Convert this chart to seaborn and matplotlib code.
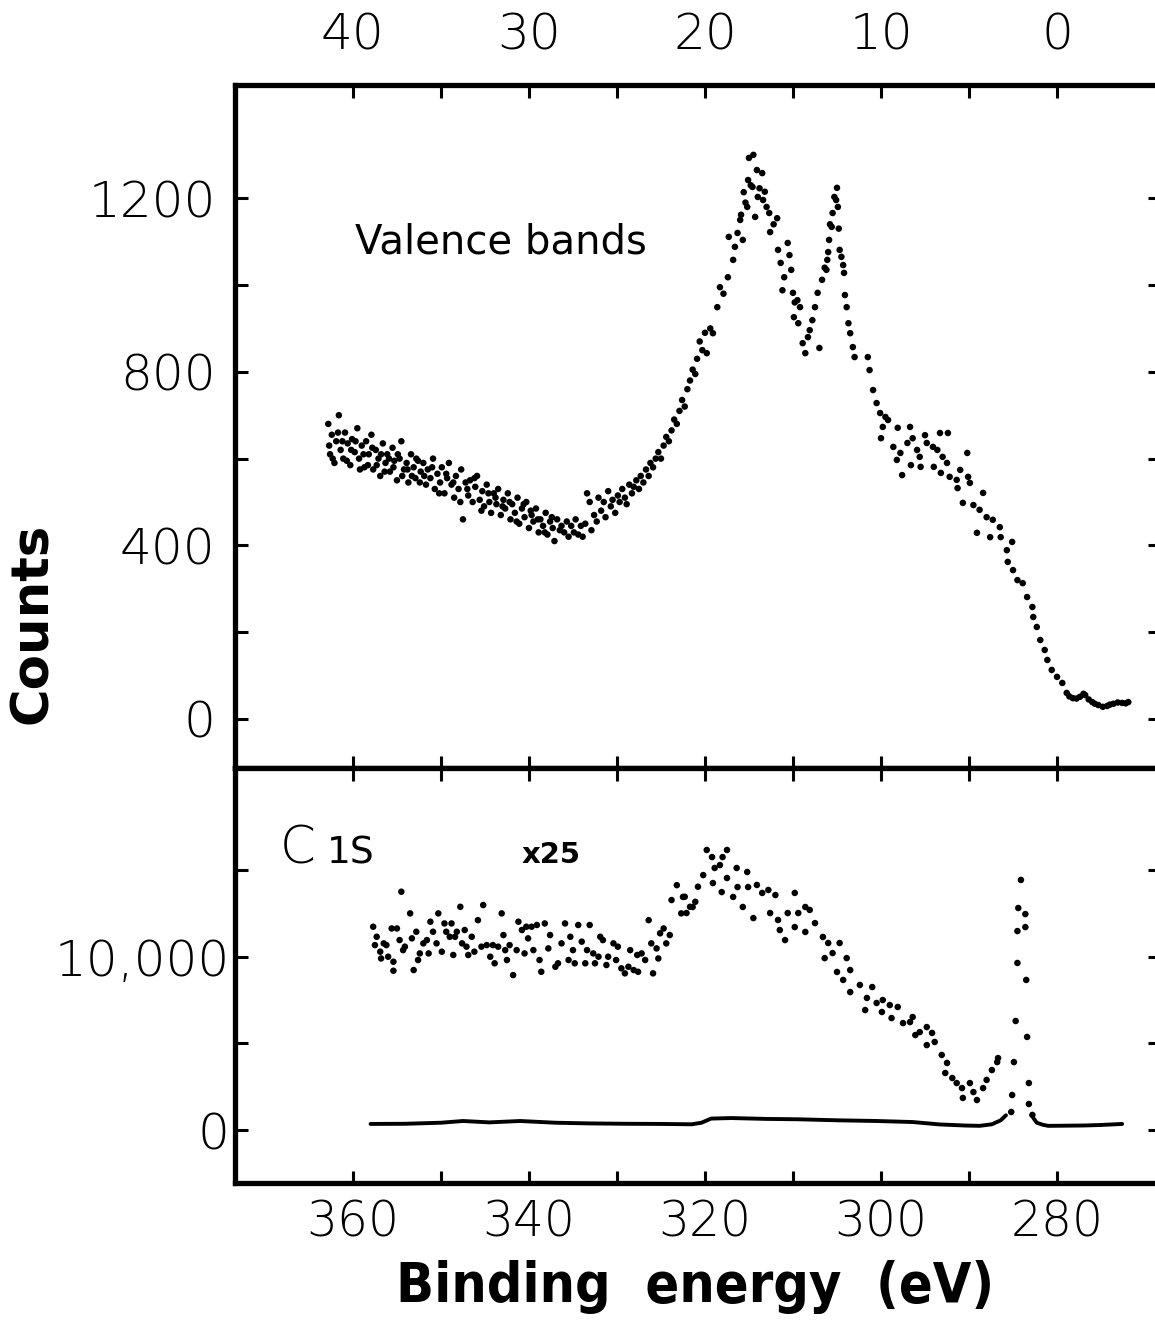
import matplotlib
matplotlib.use('Agg')
import matplotlib.pyplot as plt
import seaborn as sns
import pandas as pd

# ---- valence band spectrum (binding energy in eV, counts) ----
vb_left_be = [362.8, 362.7, 362.6, 362.4, 362.3, 362.1, 361.9, 361.7, 361.6, 361.4,
              361.2, 361.1, 360.9, 360.7, 360.6, 360.3, 360.2, 360.1, 359.8, 359.7,
              359.5, 359.3, 359.2, 359.0, 358.8, 358.7, 358.5, 358.3, 358.2, 357.9,
              357.8, 357.7, 357.4, 357.3, 357.1, 356.9, 356.8, 356.6, 356.4, 356.3,
              356.1, 355.9, 355.8, 355.5, 355.4, 355.3, 355.0, 354.9, 354.7, 354.5,
              354.4, 354.2, 353.9, 353.8, 353.7, 353.4, 353.3, 353.1, 352.9, 352.8,
              352.6, 352.4, 352.3]
vb_left_counts = [680, 630, 610, 655, 600, 590, 640, 660, 700, 620,
                  640, 600, 660, 595, 635, 585, 620, 645, 615, 640,
                  670, 600, 575, 630, 610, 580, 640, 585, 610, 655,
                  625, 575, 620, 585, 600, 560, 610, 635, 570, 590,
                  610, 600, 570, 625, 580, 595, 550, 610, 600, 640,
                  560, 575, 590, 575, 545, 610, 560, 580, 555, 600,
                  595, 545, 570]

vb_mid_be = [352.0, 351.9, 351.7, 351.5, 351.2, 351.0, 350.9, 350.7, 350.4, 350.2,
             350.1, 349.9, 349.6, 349.4, 349.3, 349.1, 348.8, 348.6, 348.5, 348.3,
             348.0, 347.8, 347.7, 347.5, 347.2, 347.0, 346.9, 346.7, 346.4, 346.2,
             346.1, 345.9, 345.6, 345.4, 345.3, 345.1, 344.8, 344.6, 344.5, 344.3,
             344.0, 343.8, 343.7, 343.5, 343.2, 343.0, 342.9, 342.7, 342.4, 342.2,
             342.1, 341.9, 341.6, 341.4, 341.3, 341.1, 340.8, 340.6, 340.5, 340.3,
             340.0, 339.8, 339.7, 339.5, 339.2, 339.0, 338.9, 338.7, 338.4, 338.2,
             338.1, 337.9, 337.6, 337.4, 337.3, 337.1, 336.8, 336.5, 336.3]
vb_mid_counts = [590, 560, 540, 575, 555, 580, 600, 530, 565, 520,
                 545, 580, 520, 565, 555, 590, 540, 545, 510, 560,
                 530, 500, 575, 460, 545, 530, 515, 550, 500, 555,
                 535, 560, 505, 480, 525, 490, 540, 520, 500, 475,
                 520, 510, 495, 530, 470, 490, 505, 485, 520, 500,
                 460, 495, 475, 455, 510, 450, 485, 495, 465, 500,
                 440, 480, 470, 455, 485, 460, 430, 460, 445, 430,
                 475, 425, 455, 465, 440, 410, 460, 435, 445]

vb_rise_be = [336.0, 335.7, 335.5, 335.2, 334.9, 334.7, 334.4, 334.1, 333.9, 333.6,
              333.4, 333.1, 332.9, 332.6, 332.3, 332.1, 331.8, 331.5, 331.3, 331.0,
              330.7, 330.5, 330.2, 329.9, 329.7, 329.4, 329.1, 328.9, 328.6, 328.3,
              328.1, 327.8, 327.5, 327.3, 327.0, 326.7, 326.4, 326.2, 325.9, 325.6,
              325.3, 325.0, 324.7, 324.4, 324.1, 323.8, 323.5, 323.2, 322.9, 322.6,
              322.3, 322.0, 321.7, 321.4, 321.1, 320.9, 320.6, 320.3, 320.0]
vb_rise_counts = [430, 455, 420, 445, 430, 460, 425, 445, 420, 450,
                  520, 500, 435, 470, 455, 510, 480, 500, 465, 525,
                  490, 505, 475, 515, 500, 530, 510, 495, 540, 520,
                  535, 550, 530, 560, 545, 575, 560, 590, 580, 600,
                  615, 600, 630, 650, 640, 665, 690, 680, 710, 735,
                  720, 760, 780, 805, 795, 830, 870, 850, 890]

vb_peak_be = [319.8, 319.4, 319.1, 318.6, 318.3, 317.9, 317.4, 317.3, 316.8, 316.6,
              316.3, 316.0, 315.9, 315.7, 315.6, 315.4, 315.2, 315.1, 315.0, 314.8,
              314.6, 314.5, 314.3, 314.1, 314.0, 313.8, 313.5, 313.4, 313.2, 313.0,
              312.7, 312.6, 312.2, 311.8, 311.7, 311.4, 311.2, 311.0, 310.6, 310.4,
              310.2, 310.0, 309.9, 309.8, 309.5, 309.4, 309.2, 308.9, 308.6, 308.3,
              308.1, 307.8, 307.5, 307.2, 307.0, 306.7, 306.4, 306.2, 306.1, 306.0,
              305.9, 305.8, 305.6, 305.5, 305.3, 305.1, 305.0, 304.9, 304.8, 304.7,
              304.5, 304.3, 304.2, 304.1, 303.9, 303.7, 303.5, 303.2, 303.0]
vb_peak_counts = [843, 900, 889, 949, 995, 980, 1018, 1111, 1058, 1088,
                  1120, 1150, 1162, 1104, 1214, 1190, 1180, 1242, 1293, 1230,
                  1226, 1300, 1157, 1265, 1203, 1223, 1258, 1196, 1215, 1180,
                  1166, 1122, 1140, 1154, 1081, 1051, 988, 1018, 1097, 1069,
                  1035, 982, 926, 960, 965, 912, 949, 866, 843, 880,
                  896, 919, 949, 982, 855, 1012, 1040, 1035, 1058, 1076,
                  1104, 1140, 1134, 1166, 1203, 1196, 1224, 1180, 1130, 1081,
                  1065, 1046, 1028, 977, 949, 912, 889, 857, 834]

vb_tail_be = [301.5, 301.3, 300.9, 300.5, 300.1, 300.0, 299.8, 299.5, 299.2, 298.6,
              298.2, 298.1, 297.8, 297.6, 297.0, 296.7, 296.6, 296.4, 295.9, 295.6,
              295.5, 295.0, 294.8, 294.1, 294.0, 293.6, 293.3, 293.2, 293.0, 292.5,
              292.4, 292.2, 291.4, 291.3, 291.0, 290.7, 290.2, 290.1, 289.9, 289.5,
              289.1, 288.8, 288.4, 288.0, 287.6, 287.3, 286.5, 286.4, 285.7, 285.6,
              285.1, 285.0, 284.5, 283.9, 283.4, 282.8, 282.7, 282.3, 281.9, 281.4,
              281.1, 280.6, 280.0, 279.4, 278.9, 278.6, 278.2, 277.8, 277.4, 277.0,
              276.8, 276.4, 276.0, 275.7, 275.3, 274.8, 274.3, 274.0, 273.6, 273.1,
              272.6, 272.2, 271.9]
vb_tail_counts = [834, 804, 758, 728, 705, 647, 673, 696, 689, 627,
                  597, 671, 613, 562, 636, 673, 585, 647, 620, 604,
                  581, 654, 636, 627, 581, 620, 659, 567, 604, 590,
                  659, 558, 551, 532, 574, 498, 613, 558, 544, 493,
                  429, 482, 521, 465, 419, 459, 442, 419, 389, 362,
                  408, 343, 320, 313, 281, 258, 235, 212, 182, 159,
                  136, 113, 97, 83, 60, 52, 48, 47, 51, 58,
                  55, 45, 39, 35, 32, 28, 30, 33, 35, 38,
                  37, 36, 39]

# ---- C 1s: x25 loss region (dots) ----
c1s_x25_be = [357.7, 357.5, 357.3, 356.9, 356.8, 356.5, 356.2, 356.0, 355.6, 355.4,
              355.4, 355.0, 354.7, 354.5, 354.3, 354.1, 353.5, 353.3, 353.1, 352.8,
              352.6, 352.4, 352.0, 351.6, 351.4, 351.2, 350.9, 350.5, 350.3, 349.9,
              349.6, 349.4, 349.0, 348.8, 348.6, 348.4, 348.2, 347.8, 347.6, 347.3,
              347.1, 346.9, 346.5, 346.2, 345.8, 345.4, 345.2, 344.8, 344.4, 344.1,
              343.9, 343.5, 343.1, 342.9, 342.7, 342.5, 342.2, 341.8, 341.4, 341.2,
              340.8, 340.5, 340.3, 340.1, 339.7, 339.5, 339.1, 338.8, 338.6, 338.2,
              337.8, 337.6, 337.0, 336.7, 336.3, 335.9, 335.5, 335.3, 335.0, 334.8,
              334.4, 334.0, 333.6, 333.4, 333.1, 332.7, 332.5, 332.1, 331.9, 331.6,
              331.2, 331.0, 330.4, 330.1, 329.9, 329.5, 329.1, 328.7, 328.5, 328.1,
              327.7, 327.6, 327.2, 326.8, 326.4, 326.1, 325.9, 325.5, 325.3, 325.1,
              324.7, 324.4, 324.0, 323.8, 323.2, 322.7, 322.5, 322.3, 322.1, 321.7,
              321.4, 321.1, 320.8, 320.2, 319.8, 319.2, 319.1, 318.9, 318.3, 318.1,
              318.0, 317.5, 317.5, 316.8, 316.4, 316.3, 315.7, 315.2, 315.1, 314.5,
              314.1, 313.5, 312.8, 312.6, 312.0, 311.7, 311.5, 310.9, 310.6, 309.8,
              309.8, 309.4, 308.6, 308.6, 308.1, 307.5, 306.6, 306.4, 306.0, 305.5,
              305.0, 304.7, 304.3, 303.9, 303.5, 303.5, 302.4, 301.8, 301.6, 301.0,
              300.5, 299.9, 299.8, 299.0, 298.8, 298.1, 297.5, 296.7, 296.4, 296.1,
              295.6, 294.8, 294.8, 294.2, 293.9, 293.1, 292.7, 292.5, 291.9, 291.4,
              290.8, 290.7, 289.9, 289.5, 289.1, 288.4, 288.0, 287.4, 286.8, 286.7]
c1s_x25_counts = [11730, 10670, 11150, 10290, 9900, 10770, 10670, 10000, 11630, 9710,
                  9190, 11630, 10960, 13750, 10380, 10580, 12500, 11060, 9230, 11440,
                  9810, 10190, 10770, 10960, 10190, 12020, 11440, 10770, 12500, 10290,
                  11920, 11440, 11150, 11920, 10100, 11150, 11440, 12880, 10770, 11540,
                  10580, 10100, 11150, 10290, 12110, 10580, 12980, 10670, 10000, 10670,
                  9620, 10580, 12500, 11250, 10380, 9810, 10670, 8940, 10380, 12020,
                  11540, 10190, 11730, 11060, 11730, 10380, 11830, 9810, 9130, 11920,
                  10480, 11250, 9420, 9620, 10770, 11920, 9810, 11150, 10380, 9620,
                  11830, 10870, 9620, 10380, 11830, 10190, 9620, 10000, 11150, 10960,
                  9520, 10000, 10770, 9810, 10580, 9330, 9040, 9420, 10380, 9230,
                  10100, 9130, 10190, 9810, 12110, 10770, 9040, 10480, 9900, 11350,
                  11630, 10770, 11250, 13270, 14130, 12500, 13450, 13460, 12520, 12880,
                  12870, 13170, 14040, 14710, 16160, 15750, 14250, 15120, 15290, 13730,
                  15750, 16160, 14540, 13450, 15120, 14020, 12870, 14890, 14020, 12230,
                  14140, 13680, 13850, 12520, 13560, 12120, 11540, 10960, 12520, 13680,
                  11710, 12520, 12870, 11430, 12700, 11940, 11140, 9920, 10790, 10210,
                  9120, 10790, 8660, 9920, 9230, 7960, 8370, 6920, 7620, 8250,
                  7330, 6810, 7500, 7210, 6460, 7100, 6170, 6230, 6520, 5480,
                  5650, 5940, 4900, 5600, 5080, 4330, 3290, 3870, 3000, 2710,
                  2420, 1850, 2710, 2190, 1730, 2420, 2890, 3460, 3920, 4150]

# ---- C 1s: main peak at x1 (dots) ----
c1s_peak_be = [285.2, 285.1, 284.9, 284.7, 284.5, 284.5, 284.4, 284.1, 283.6, 283.6,
               283.5, 283.4, 283.2, 283.2, 282.8]
c1s_peak_counts = [1040, 2020, 3920, 6290, 9640, 11480, 12810, 14430, 12460, 11710,
                   8660, 5370, 2710, 1500, 870]

# ---- C 1s: x1 trace drawn as a line on either side of the peak ----
c1s_high_be = [358.0, 354.0, 350.0, 347.5, 344.5, 341.0, 337.0, 333.0, 329.0, 325.0,
               321.5, 320.4, 319.3, 317.0, 313.0, 309.5, 305.0, 300.5, 296.4, 293.3,
               290.5, 288.8, 287.4, 286.4, 285.8]
c1s_high_counts = [350, 360, 420, 520, 440, 520, 420, 380, 360, 350,
                   330, 420, 660, 690, 640, 620, 560, 520, 460, 320,
                   260, 240, 330, 560, 850]
c1s_low_be = [282.7, 282.3, 281.6, 281.0, 279.0, 277.0, 275.0, 272.6]
c1s_low_counts = [700, 420, 300, 240, 250, 260, 290, 350]

# ---- axes ticks ----
be_ticks = [360, 350, 340, 330, 320, 310, 300, 290, 280]
be_labels = ['360', '', '340', '', '320', '', '300', '', '280']
top_labels = ['40', '', '30', '', '20', '', '10', '', '0']
vb_ticks = [0, 200, 400, 600, 800, 1000, 1200]
vb_labels = ['0', '', '400', '', '800', '', '1200']
c1s_ticks = [0, 5000, 10000, 15000]
c1s_labels = ['0', '', '10,000', '']

vb = pd.DataFrame({'be': vb_left_be + vb_mid_be + vb_rise_be + vb_peak_be + vb_tail_be,
                   'counts': vb_left_counts + vb_mid_counts + vb_rise_counts
                   + vb_peak_counts + vb_tail_counts})
x25 = pd.DataFrame({'be': c1s_x25_be, 'counts': c1s_x25_counts})
peak = pd.DataFrame({'be': c1s_peak_be, 'counts': c1s_peak_counts})
hi = pd.DataFrame({'be': c1s_high_be, 'counts': c1s_high_counts})
lo = pd.DataFrame({'be': c1s_low_be, 'counts': c1s_low_counts})

sns.set_style('ticks')
plt.rcParams['font.family'] = ['DejaVu Sans']
for key in ['text.color', 'axes.edgecolor', 'axes.labelcolor', 'xtick.color', 'ytick.color']:
    plt.rcParams[key] = 'black'
light = dict(family='DejaVu Sans', weight=200)

fig = plt.figure(figsize=(11.55, 13.29), dpi=100)
W, H = 1155, 1329
ax1 = fig.add_axes([235 / W, 1 - 768 / H, 925 / W, (768 - 85) / H])
ax2 = fig.add_axes([235 / W, 1 - 1183 / H, 925 / W, (1183 - 768) / H])

dot = dict(color='black', s=22, edgecolor='none', legend=False)
sns.scatterplot(data=vb, x='be', y='counts', ax=ax1, **dot)
sns.scatterplot(data=x25, x='be', y='counts', ax=ax2, **dot)
sns.scatterplot(data=peak, x='be', y='counts', ax=ax2, **dot)
sns.lineplot(data=hi, x='be', y='counts', ax=ax2, color='black', lw=2.8)
sns.lineplot(data=lo, x='be', y='counts', ax=ax2, color='black', lw=2.8)

for ax in (ax1, ax2):
    ax.set_xlim(373.4, 268.3)
    ax.set_xticks(be_ticks)
    for s in ax.spines.values():
        s.set_linewidth(3.8)
        s.set_color('black')
    ax.tick_params(direction='in', length=9, width=2.2, top=True, right=True,
                   colors='black')
    ax.set_xlabel('')
    ax.set_ylabel('')

ax1.set_ylim(-113, 1461)
ax1.set_yticks(vb_ticks)
ax1.set_yticklabels(vb_labels, fontsize=36, **light)
ax1.set_xticklabels(top_labels, fontsize=36, **light)
ax1.tick_params(axis='x', labeltop=True, labelbottom=False, pad=18)
ax1.tick_params(axis='y', pad=14)

ax2.set_ylim(-3058, 20890)
ax2.set_yticks(c1s_ticks)
ax2.set_yticklabels(c1s_labels, fontsize=36, **light)
ax2.set_xticklabels(be_labels, fontsize=35, **light)
ax2.tick_params(axis='x', labeltop=False, labelbottom=True, pad=11)
ax2.tick_params(axis='y', pad=4)

fig.text(355 / W, 1 - 253 / H, 'Valence bands', fontsize=29, va='baseline', ha='left')
fig.text(280 / W, 1 - 863 / H, 'C', fontsize=37, va='baseline', ha='left', **light)
fig.text(327 / W, 1 - 863 / H, '1S', fontsize=27, va='baseline', ha='left')
fig.text(522 / W, 1 - 863 / H, 'x25', fontsize=21, va='baseline', ha='left', weight='bold')

fig.text(33 / W, 1 - 623 / H, 'Counts', rotation=90, fontsize=37, weight='bold',
         ha='center', va='center')
fig.text(695 / W, 1 - 1302 / H, 'Binding  energy  (eV)', fontsize=40, weight='bold',
         ha='center', va='baseline', family=['DejaVu Sans Condensed', 'DejaVu Sans'],
         stretch='condensed')

fig.savefig('out.png', dpi=100, facecolor='white')
